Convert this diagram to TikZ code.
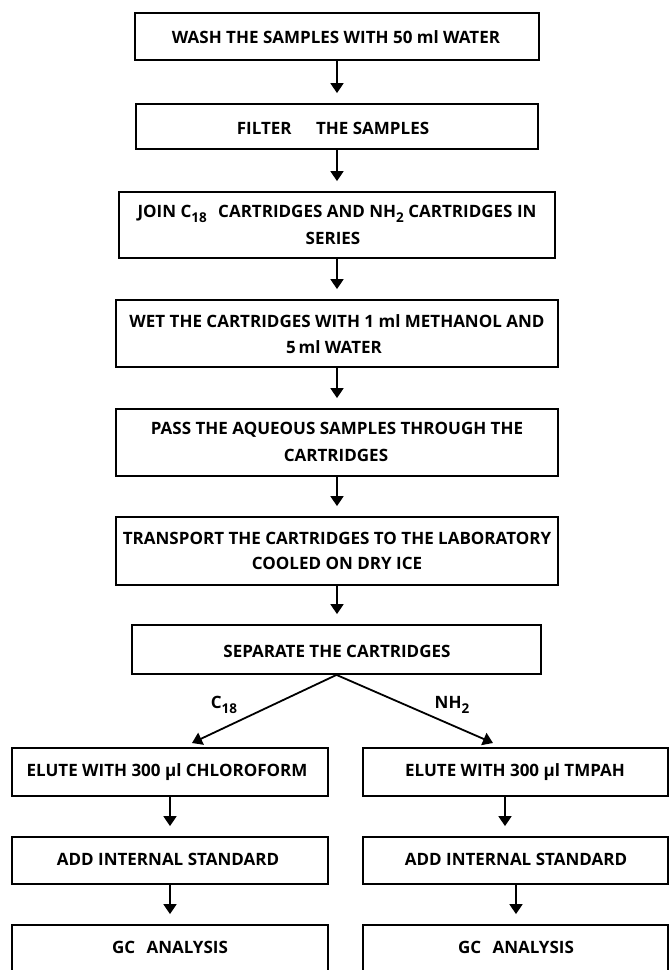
\documentclass[tikz,border=0pt]{standalone}
\usepackage{fontspec}
\setmainfont{Open Sans}
\usetikzlibrary{arrows.meta}
\newcommand\lowsub[1]{\raisebox{-0.55ex}{\fontsize{13.5}{14}\selectfont #1}}
\begin{document}
\begin{tikzpicture}[x=1pt,y=-1pt,
  box/.style={draw, line width=1.8pt, inner sep=0pt},
  txt/.style={font=\fontsize{17}{19}\selectfont\bfseries, inner sep=0pt, anchor=center},
  lbl/.style={font=\fontsize{17}{19}\selectfont\bfseries, inner sep=0pt, anchor=center},
  arr/.style={line width=1.8pt, -{Triangle[width=13pt,length=10pt]}, shorten >=10pt}]
\useasboundingbox (0,0) rectangle (670,970);
\clip (0,0) rectangle (670,970);
% main column boxes
\node[box, minimum width=404pt, minimum height=47pt] (b1) at (337,36.5) {};
\node[box, minimum width=402pt, minimum height=45pt] (b2) at (337,126.5) {};
\node[box, minimum width=436pt, minimum height=66pt] (b3) at (337,225) {};
\node[box, minimum width=442pt, minimum height=67pt] (b4) at (337,333.5) {};
\node[box, minimum width=442pt, minimum height=67pt] (b5) at (337,442.5) {};
\node[box, minimum width=442pt, minimum height=68pt] (b6) at (337,551) {};
\node[box, minimum width=409pt, minimum height=49pt] (b7) at (336.5,649.5) {};
% left column
\node[box, minimum width=316pt, minimum height=48pt] (l1) at (170,772) {};
\node[box, minimum width=316pt, minimum height=47pt] (l2) at (170,860.5) {};
\node[box, minimum width=316pt, minimum height=60pt] (l3) at (170,955) {};
% right column
\node[box, minimum width=305pt, minimum height=48pt] (r1) at (515.5,772) {};
\node[box, minimum width=305pt, minimum height=47pt] (r2) at (515.5,860.5) {};
\node[box, minimum width=305pt, minimum height=60pt] (r3) at (515.5,955) {};
% texts
\node[txt] (t1) at (336,37) {WASH THE SAMPLES WITH 50 ml WATER};
\node[txt] (t2) at (333,128) {FILTER\hspace{20pt} THE SAMPLES};
\node[txt] (t3a) at (337,214) {JOIN C\lowsub{18}\hspace{7pt} CARTRIDGES AND NH\lowsub{2} CARTRIDGES IN};
\node[txt] (t3b) at (333,238) {SERIES};
\node[txt] (t4a) at (337,321) {WET THE CARTRIDGES WITH 1 ml METHANOL AND};
\node[txt] (t4b) at (334,347) {5\,ml WATER};
\node[txt] (t5a) at (337,430) {PASS THE AQUEOUS SAMPLES THROUGH THE};
\node[txt] (t5b) at (336,455) {CARTRIDGES};
\node[txt] (t6a) at (337,538) {TRANSPORT THE CARTRIDGES TO THE LABORATORY};
\node[txt] (t6b) at (337,563) {COOLED ON DRY ICE};
\node[txt] (t7) at (337,651) {SEPARATE THE CARTRIDGES};
\node[txt] (tl1) at (167,772) {ELUTE WITH 300 µl CHLOROFORM};
\node[txt] (tl2) at (168,859) {ADD INTERNAL STANDARD};
\node[txt] (tl3) at (170,947) {GC\hspace{7pt} ANALYSIS};
\node[txt] (tr1) at (515,772) {ELUTE WITH 300 µl TMPAH};
\node[txt] (tr2) at (516,859) {ADD INTERNAL STANDARD};
\node[txt] (tr3) at (516,947) {GC\hspace{7pt} ANALYSIS};
% branch labels
\node[lbl] (c18) at (224,705) {C\lowsub{18}};
\node[lbl] (nh2) at (452,705) {NH\lowsub{2}};
% arrow x positions
\coordinate (mx) at (337,0);
\coordinate (lx) at (170,0);
\coordinate (rxa) at (505,0);
\coordinate (rxb) at (516,0);
\coordinate (ltip) at (192,743);
\coordinate (rtip) at (493,743);
% main arrows
\draw[arr] (b1.south -| mx) -- (b2.north -| mx);
\draw[arr] (b2.south -| mx) -- (b3.north -| mx);
\draw[arr] (b3.south -| mx) -- (b4.north -| mx);
\draw[arr] (b4.south -| mx) -- (b5.north -| mx);
\draw[arr] (b5.south -| mx) -- (b6.north -| mx);
\draw[arr] (b6.south -| mx) -- (b7.north -| mx);
% branches
\draw[arr, shorten >=0pt] (b7.south) -- (ltip);
\draw[arr, shorten >=0pt] (b7.south) -- (rtip);
% side arrows
\draw[arr] (l1.south -| lx) -- (l2.north -| lx);
\draw[arr] (l2.south -| lx) -- (l3.north -| lx);
\draw[arr] (r1.south -| rxa) -- (r2.north -| rxa);
\draw[arr] (r2.south -| rxb) -- (r3.north -| rxb);
\end{tikzpicture}
\end{document}
